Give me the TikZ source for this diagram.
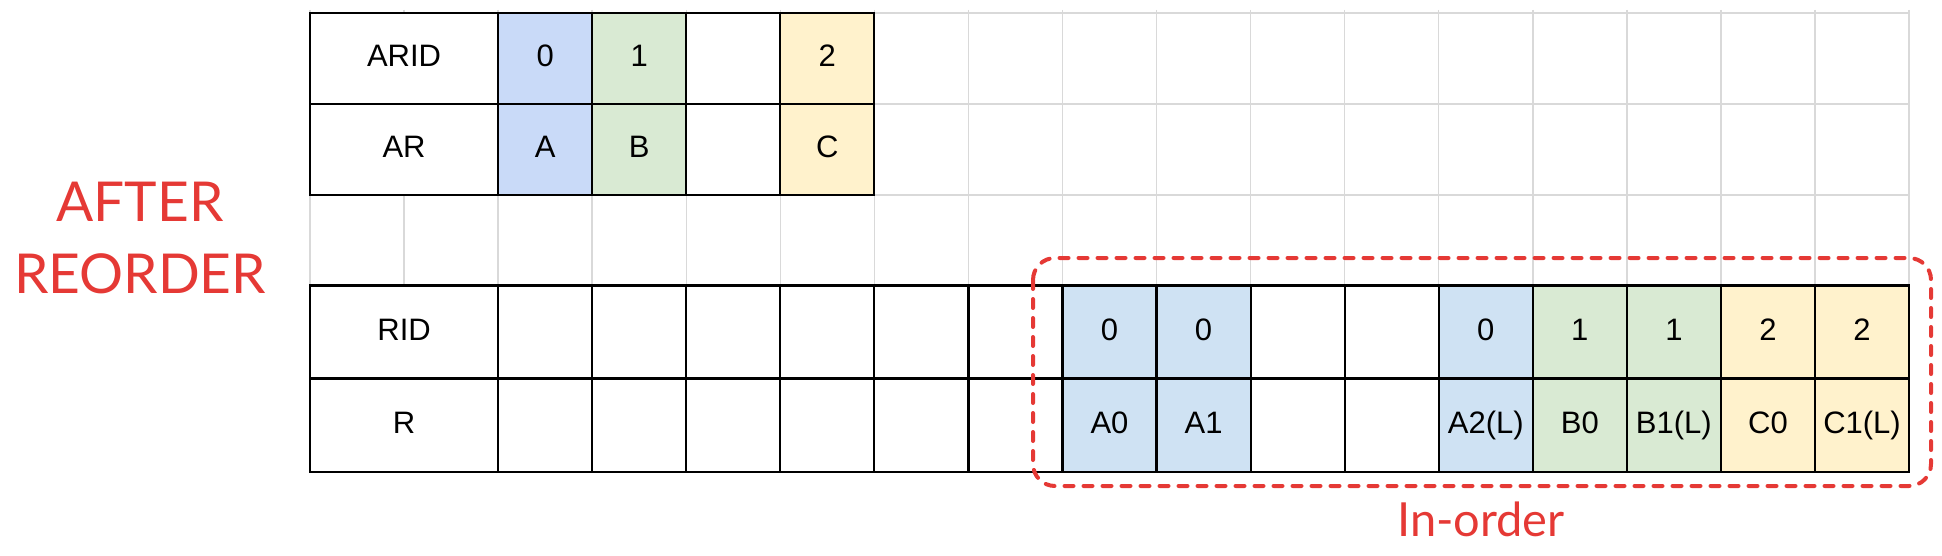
\documentclass[tikz,border=0pt]{standalone}
\usepackage{fontspec}
\setmainfont{Liberation Sans}
\newfontfamily\notefont{Lato}
\definecolor{ablue}{HTML}{C9DAF8}
\definecolor{lblue}{HTML}{CFE2F3}
\definecolor{lgreen}{HTML}{D9EAD3}
\definecolor{lyellow}{HTML}{FFF2CC}
\definecolor{notered}{HTML}{E53935}
\definecolor{gridgray}{HTML}{D9D9D9}

\begin{document}
\begin{tikzpicture}[x=1pt,y=-1pt,
	gridline/.style={draw=gridgray,line width=1.5pt},
	cell/.style={draw=black,line width=2.2pt,inner sep=0pt,
		minimum width=94.06pt,minimum height=91pt,
		text height=22pt,text depth=5pt,font=\fontsize{31}{36}\selectfont},
	headcell/.style={cell,fill=white,minimum width=188.12pt},
	note/.style={text=notered,inner sep=0pt,anchor=base},
	inorderbox/.style={draw=notered,line width=4pt,line cap=round,
		dash pattern=on 9pt off 10pt,rounded corners=22pt}]
\useasboundingbox (0,0) rectangle (1942,556);

% sheet grid behind the tables
\foreach \k in {0,...,17}
	\draw[gridline] ({310+94.06*\k},10) -- ({310+94.06*\k},285);
\foreach \y in {13,104,195}
	\draw[gridline] (310,\y) -- (1909,\y);

% upper table
\path (404.06,58.5) node[headcell] (arid) {ARID}
		(404.06,149.5) node[headcell] (ar) {AR};
\foreach \k/\c/\id/\val in {2/ablue/0/A, 3/lgreen/1/B, 4/white/{}/{}, 5/lyellow/2/C}
{
	\path ({310+94.06*(\k+0.5)},58.5) node[cell,fill=\c] (arid-\k) {\id}
		({310+94.06*(\k+0.5)},149.5) node[cell,fill=\c] (ar-\k) {\val};
}

% lower table
\path (404.06,332) node[headcell,minimum height=93pt] (rid) {RID}
		(404.06,425.25) node[headcell,minimum height=93pt] (r) {R};
\foreach \k/\c/\id/\val in {2/white/{}/{}, 3/white/{}/{}, 4/white/{}/{}, 5/white/{}/{},
		6/white/{}/{}, 7/white/{}/{}, 8/lblue/0/A0, 9/lblue/0/A1, 10/white/{}/{},
		11/white/{}/{}, 12/lblue/0/A2(L), 13/lgreen/1/B0, 14/lgreen/1/B1(L),
		15/lyellow/2/C0, 16/lyellow/2/C1(L)}
{
	\path ({310+94.06*(\k+0.5)},332) node[cell,minimum height=93pt,fill=\c] (rid-\k) {\id}
		({310+94.06*(\k+0.5)},425.25) node[cell,minimum height=93pt,fill=\c] (r-\k) {\val};
}

% notes
\path (140,221) node[note,font=\notefont\fontsize{55}{62}\selectfont] (after) {AFTER}
		(140,293) node[note,font=\notefont\fontsize{55}{62}\selectfont] (reorder) {REORDER}
		(1481,536) node[note,font=\notefont\fontsize{47}{54}\selectfont] (inorder) {In-order};
\draw[inorderbox] (1033,258) rectangle (1931,486);
\end{tikzpicture}
\end{document}
